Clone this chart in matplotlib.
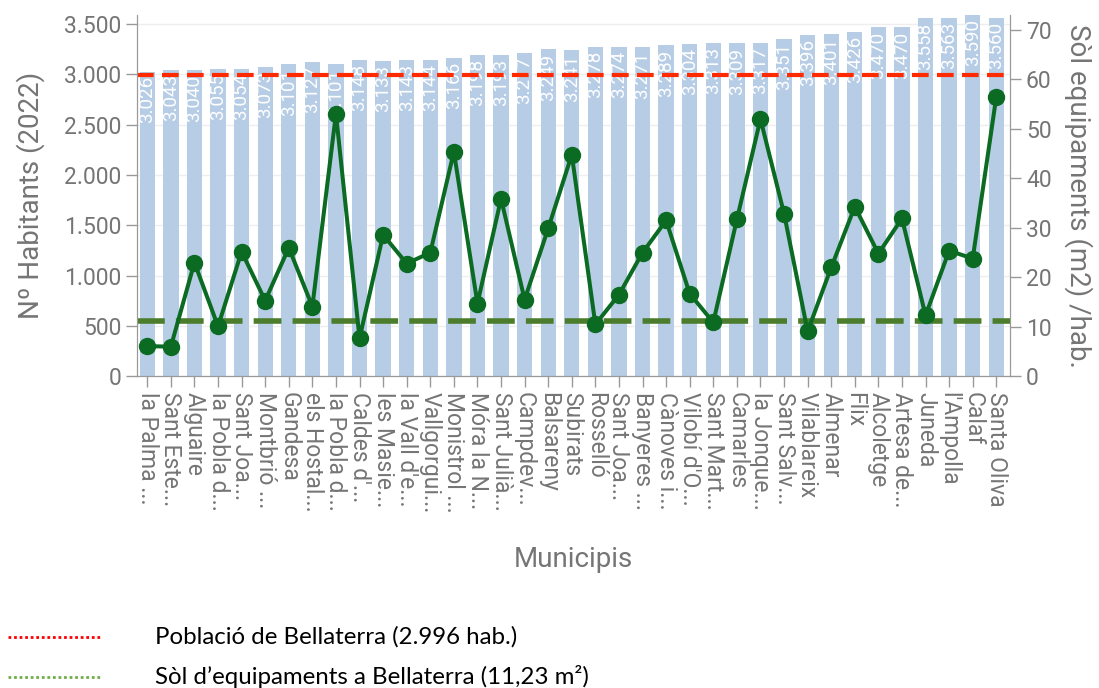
import numpy as np
import matplotlib.pyplot as plt
from matplotlib.lines import Line2D

plt.rcParams['font.family'] = ['Roboto', 'DejaVu Sans']

# municipis (etiquetes retallades com a l'original)
municipis = ['la Palma ...', 'Sant Este...', 'Alguaire', 'la Pobla d...', 'Sant Joa...',
             'Montbrió ...', 'Gandesa', 'els Hostal...', 'la Pobla d...', "Caldes d'...",
             'les Masie...', "la Vall d'e...", 'Vallgorgui...', 'Monistrol ...', 'Móra la N...',
             'Sant Julià...', 'Campdev...', 'Balsareny', 'Subirats', 'Rosselló',
             'Sant Joa...', 'Banyeres ...', 'Cànoves i...', "Vilobí d'O...", 'Sant Mart...',
             'Camarles', 'la Jonque...', 'Sant Salv...', 'Vilablareix', 'Almenar',
             'Flix', 'Alcoletge', 'Artesa de...', 'Juneda', "l'Ampolla",
             'Calaf', 'Santa Oliva']

habitants = [3026, 3043, 3040, 3055, 3054, 3073, 3101, 3127, 3101, 3148,
             3133, 3143, 3144, 3166, 3198, 3193, 3217, 3249, 3241, 3278,
             3274, 3271, 3289, 3304, 3313, 3309, 3317, 3351, 3396, 3401,
             3426, 3470, 3470, 3558, 3563, 3590, 3560]

sol_equip = [6.1, 6.0, 23.0, 10.1, 25.2, 15.3, 26.0, 14.1, 53.1, 7.7,
             28.6, 22.8, 25.0, 45.4, 14.7, 35.9, 15.5, 29.9, 44.8, 10.5,
             16.5, 25.0, 31.5, 16.7, 10.9, 31.7, 52.0, 32.9, 9.1, 22.0,
             34.3, 24.8, 31.9, 12.3, 25.4, 23.8, 56.5]

pob_bellaterra = 2996
sol_bellaterra = 11.23

grey = '#757575'
x = np.arange(len(municipis))

fig = plt.figure(figsize=(10.99, 6.88), dpi=100)
ax = fig.add_axes([0.125, 0.453, 0.794, 0.525])
ax2 = ax.twinx()

ax.yaxis.grid(True, color='#eeeeee', linewidth=1)
ax.set_axisbelow(True)
ax.bar(x, habitants, width=0.65, color='#b7cde5', zorder=2)
for i, v in enumerate(habitants):
    ax.annotate(f'{v:,}'.replace(',', '.'), (x[i], v), xytext=(0, -3),
                textcoords='offset points', rotation=90, ha='center', va='top',
                color='white', fontsize=13.5, zorder=3)
ax.axhline(pob_bellaterra, color='#ff2a00', linewidth=3, dashes=(4, 2), zorder=4)

ax.set_xlim(-0.42, len(x) - 0.42)
ax.set_ylim(0, 3590)
ax.set_yticks(np.arange(0, 3501, 500))
ax.set_yticklabels([f'{t:,}'.replace(',', '.') for t in range(0, 3501, 500)])
ax.set_xticks(x)
ax.set_xticklabels(municipis, rotation=270, ha='center', va='top')

ax2.axhline(sol_bellaterra, color='#4b7d2c', linewidth=4, dashes=(5, 2), zorder=1)
ax2.plot(x, sol_equip, color='#0b6b22', linewidth=2.9, marker='o', markersize=11.5, zorder=2)
ax2.set_ylim(0, 73)
ax2.set_yticks(np.arange(0, 71, 10))

for a in (ax, ax2):
    a.tick_params(colors='#999999', labelcolor=grey, labelsize=16.5, length=8, width=1)
    for s in a.spines.values():
        s.set_color('#999999')
    a.spines['top'].set_visible(False)
ax.tick_params(axis='x', pad=3)

ax.set_ylabel('Nº Habitants (2022)', fontsize=20, color=grey, labelpad=14)
ax.set_xlabel('Municipis', fontsize=20, color=grey, labelpad=24)
ax2.set_ylabel('Sòl equipaments (m2) /hab.', fontsize=20, color=grey, rotation=270,
               labelpad=30)

# llegenda manual a la part inferior
fig.add_artist(Line2D([0.007, 0.092], [0.074, 0.074], color='#ff0000', linewidth=2,
                      linestyle=(0, (1, 1)), transform=fig.transFigure))
fig.add_artist(Line2D([0.007, 0.092], [0.016, 0.016], color='#70ad47', linewidth=2,
                      linestyle=(0, (1, 1)), transform=fig.transFigure))
fig.text(0.141, 0.074, 'Població de Bellaterra (2.996 hab.)', fontsize=17.3,
         family=['Lato', 'DejaVu Sans'], va='center', color='black')
fig.text(0.141, 0.016, 'Sòl d’equipaments a Bellaterra (11,23 m²)', fontsize=17.3,
         family=['Lato', 'DejaVu Sans'], va='center', color='black')

fig.savefig('out.png', dpi=100)
